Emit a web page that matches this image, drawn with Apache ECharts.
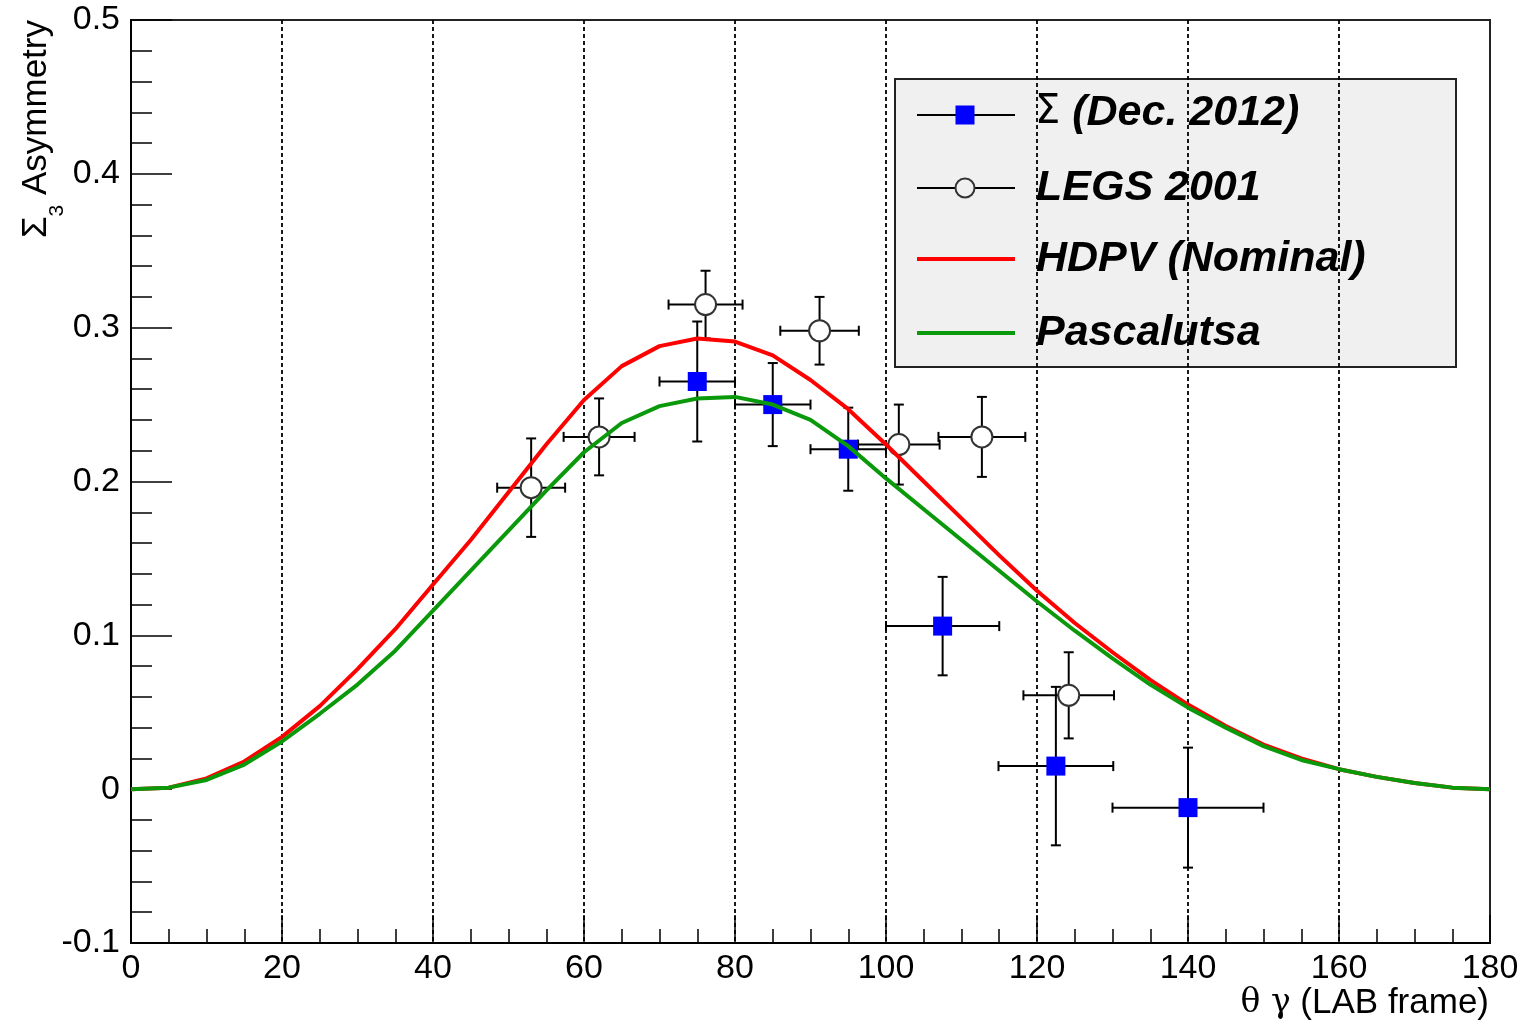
<!DOCTYPE html>
<html>
<head>
<meta charset="utf-8">
<script src="https://cdn.jsdelivr.net/npm/echarts@6/dist/echarts.min.js"></script>
<style>
  html, body { margin: 0; padding: 0; background: #fff; }
  #chart { width: 1526px; height: 1026px; }
</style>
</head>
<body>
<div id="chart"></div>
<script>
// Theory predictions, sampled every 5 degrees of the photon lab angle
const theta = [0, 5, 10, 15, 20, 25, 30, 35, 40, 45, 50, 55, 60, 65, 70, 75, 80, 85, 90,
               95, 100, 105, 110, 115, 120, 125, 130, 135, 140, 145, 150, 155, 160, 165, 170, 175, 180];
const hdpv = [0, 0.001, 0.007, 0.018, 0.034, 0.054, 0.078, 0.104, 0.133, 0.162, 0.193, 0.224, 0.253,
              0.275, 0.288, 0.293, 0.291, 0.282, 0.266, 0.247, 0.224, 0.200, 0.176, 0.152, 0.129,
              0.108, 0.089, 0.071, 0.055, 0.041, 0.029, 0.020, 0.013, 0.008, 0.004, 0.001, 0];
const pascalutsa = [0, 0.001, 0.006, 0.016, 0.031, 0.049, 0.068, 0.090, 0.116, 0.142, 0.168, 0.194, 0.219,
                    0.238, 0.249, 0.254, 0.255, 0.250, 0.240, 0.223, 0.202, 0.182, 0.162, 0.142, 0.122,
                    0.103, 0.085, 0.068, 0.053, 0.040, 0.028, 0.019, 0.013, 0.008, 0.004, 0.001, 0];

// Σ (Dec. 2012) measurement
const sigmaX    = [75, 85, 95, 107.5, 122.5, 140];
const sigmaY    = [0.265, 0.250, 0.221, 0.106, 0.015, -0.012];
const sigmaXErr = [5, 5, 5, 7.5, 7.6, 10];
const sigmaYErr = [0.039, 0.027, 0.027, 0.032, 0.0515, 0.039];

// LEGS 2001 measurement
const legsX    = [53, 62, 76.1, 91.2, 101.7, 112.7, 124.2];
const legsY    = [0.196, 0.229, 0.315, 0.298, 0.224, 0.229, 0.061];
const legsXErr = [4.5, 4.7, 4.9, 5.2, 5.4, 5.75, 6];
const legsYErr = [0.032, 0.025, 0.022, 0.022, 0.026, 0.026, 0.028];

// Axis ticks
const xTicks = { min: 0, max: 180, interval: 20 };
const yTicks = { min: -0.1, max: 0.5, interval: 0.1 };

const FONT = 'Liberation Sans';
const RED = '#ff0000';
const GREEN = '#0a990a';
const BLUE = '#0000ff';

function pairs(xs, ys) {
  return xs.map((x, i) => [x, ys[i]]);
}

// Cross-shaped error bars with end caps, positioned through the axes
function errorBars(name, xs, ys, xe, ye) {
  return {
    type: 'custom',
    name: name + ' errors',
    z: 2,
    silent: true,
    data: xs.map((x, i) => [x, ys[i], xe[i], ye[i]]),
    encode: { x: 0, y: 1 },
    renderItem(params, api) {
      const x = api.value(0), y = api.value(1), dx = api.value(2), dy = api.value(3);
      const l = api.coord([x - dx, y]);
      const r = api.coord([x + dx, y]);
      const t = api.coord([x, y + dy]);
      const b = api.coord([x, y - dy]);
      const cap = 5;
      const style = { stroke: '#000', lineWidth: 2 };
      const seg = (x1, y1, x2, y2) => ({ type: 'line', shape: { x1, y1, x2, y2 }, style });
      return {
        type: 'group',
        children: [
          seg(l[0], l[1], r[0], r[1]),
          seg(t[0], t[1], b[0], b[1]),
          seg(l[0], l[1] - cap, l[0], l[1] + cap),
          seg(r[0], r[1] - cap, r[0], r[1] + cap),
          seg(t[0] - cap, t[1], t[0] + cap, t[1]),
          seg(b[0] - cap, b[1], b[0] + cap, b[1])
        ]
      };
    }
  };
}

const chart = echarts.init(document.getElementById('chart'), null, { renderer: 'canvas' });

const legendFont = { fontFamily: FONT, fontSize: 43, fontStyle: 'italic', fontWeight: 'bold', fill: '#000' };
const legendRows = [115, 188, 259, 333];

const option = {
  backgroundColor: '#fff',
  animation: false,
  grid: {
    left: 131, right: 36, top: 20, bottom: 83,
    show: true, borderColor: '#222', borderWidth: 2, backgroundColor: 'transparent',
    outerBoundsMode: 'none'
  },
  xAxis: {
    type: 'value',
    min: xTicks.min, max: xTicks.max, interval: xTicks.interval,
    axisLine: { show: true, onZero: false, lineStyle: { color: '#000', width: 2 } },
    axisTick: { show: true, inside: true, length: 28, lineStyle: { color: '#000', width: 1.5 } },
    minorTick: { show: true, splitNumber: 4, length: 14, lineStyle: { color: '#000', width: 1.5 } },
    splitLine: { show: true, showMinLine: false, showMaxLine: false,
                 lineStyle: { color: '#000', width: 1.8, type: [4, 3] } },
    axisLabel: { color: '#000', fontFamily: FONT, fontSize: 34, margin: 9 }
  },
  yAxis: {
    type: 'value',
    min: yTicks.min, max: yTicks.max, interval: yTicks.interval,
    axisLine: { show: true, onZero: false, lineStyle: { color: '#000', width: 2 } },
    axisTick: { show: true, inside: true, length: 41, lineStyle: { color: '#000', width: 1.5 } },
    minorTick: { show: true, splitNumber: 5, length: 21, lineStyle: { color: '#000', width: 1.5 } },
    splitLine: { show: false },
    axisLabel: {
      color: '#000', fontFamily: FONT, fontSize: 34, margin: 11, padding: [8, 0, 0, 0],
      formatter: v => String(Math.round(v * 10) / 10)
    }
  },
  series: [
    errorBars('Σ (Dec. 2012)', sigmaX, sigmaY, sigmaXErr, sigmaYErr),
    errorBars('LEGS 2001', legsX, legsY, legsXErr, legsYErr),
    {
      type: 'scatter', name: 'Σ (Dec. 2012)', z: 3,
      data: pairs(sigmaX, sigmaY),
      symbol: 'rect', symbolSize: 19,
      itemStyle: { color: BLUE, opacity: 1 }
    },
    {
      type: 'scatter', name: 'LEGS 2001', z: 3,
      data: pairs(legsX, legsY),
      symbol: 'circle', symbolSize: 21,
      itemStyle: { color: '#fff', borderColor: '#333', borderWidth: 2, opacity: 1 }
    },
    {
      type: 'line', name: 'HDPV (Nominal)', z: 4,
      data: pairs(theta, hdpv),
      showSymbol: false, smooth: false,
      lineStyle: { color: RED, width: 4, join: 'round' }
    },
    {
      type: 'line', name: 'Pascalutsa', z: 4,
      data: pairs(theta, pascalutsa),
      showSymbol: false, smooth: false,
      lineStyle: { color: GREEN, width: 4, join: 'round' }
    }
  ],
  graphic: [
    // axis titles
    {
      type: 'text', x: 1489, y: 1003, z: 10,
      style: {
        text: '{g|θ γ} (LAB frame)',
        align: 'right', verticalAlign: 'middle',
        fontFamily: FONT, fontSize: 35, fill: '#000',
        rich: { g: { fontFamily: 'DejaVu Serif', fontSize: 33, fill: '#000' } }
      }
    },
    {
      type: 'text', x: 36, y: 20, rotation: Math.PI / 2, z: 10,
      style: {
        text: '{m|Σ}{s|3}{m| Asymmetry}',
        align: 'right', verticalAlign: 'middle',
        fontFamily: FONT, fontSize: 35, fill: '#000',
        rich: {
          m: { fontFamily: FONT, fontSize: 35, lineHeight: 35, verticalAlign: 'top', fill: '#000' },
          s: { fontFamily: FONT, fontSize: 21, lineHeight: 21, verticalAlign: 'top', padding: [28, 0, 0, 0], fill: '#000' }
        }
      }
    },
    // legend box
    {
      type: 'group', z: 20,
      children: [
        { type: 'rect', shape: { x: 895, y: 79, width: 561, height: 288 },
          style: { fill: '#f0f0f0', stroke: '#222', lineWidth: 2 } },
        { type: 'line', shape: { x1: 917, y1: legendRows[0], x2: 1015, y2: legendRows[0] },
          style: { stroke: '#000', lineWidth: 2 } },
        { type: 'rect', shape: { x: 955.5, y: legendRows[0] - 9.5, width: 19, height: 19 },
          style: { fill: BLUE } },
        { type: 'line', shape: { x1: 917, y1: legendRows[1], x2: 1015, y2: legendRows[1] },
          style: { stroke: '#000', lineWidth: 2 } },
        { type: 'circle', shape: { cx: 965, cy: legendRows[1], r: 9.5 },
          style: { fill: '#f0f0f0', stroke: '#333', lineWidth: 2 } },
        { type: 'line', shape: { x1: 917, y1: legendRows[2], x2: 1015, y2: legendRows[2] },
          style: { stroke: RED, lineWidth: 4 } },
        { type: 'line', shape: { x1: 917, y1: legendRows[3], x2: 1015, y2: legendRows[3] },
          style: { stroke: GREEN, lineWidth: 4 } },
        { type: 'text', x: 1035, y: legendRows[0] - 2,
          style: Object.assign({}, legendFont, {
            text: '{g|Σ} (Dec. 2012)', verticalAlign: 'middle',
            rich: { g: { fontFamily: 'DejaVu Sans', fontSize: 40, fontStyle: 'normal', fontWeight: 'normal', fill: '#000' } }
          }) },
        { type: 'text', x: 1036, y: legendRows[1],
          style: Object.assign({}, legendFont, { text: 'LEGS 2001', verticalAlign: 'middle' }) },
        { type: 'text', x: 1036, y: legendRows[2],
          style: Object.assign({}, legendFont, { text: 'HDPV (Nominal)', verticalAlign: 'middle' }) },
        { type: 'text', x: 1036, y: legendRows[3],
          style: Object.assign({}, legendFont, { text: 'Pascalutsa', verticalAlign: 'middle' }) }
      ]
    }
  ]
};

chart.setOption(option);
</script>
</body>
</html>
